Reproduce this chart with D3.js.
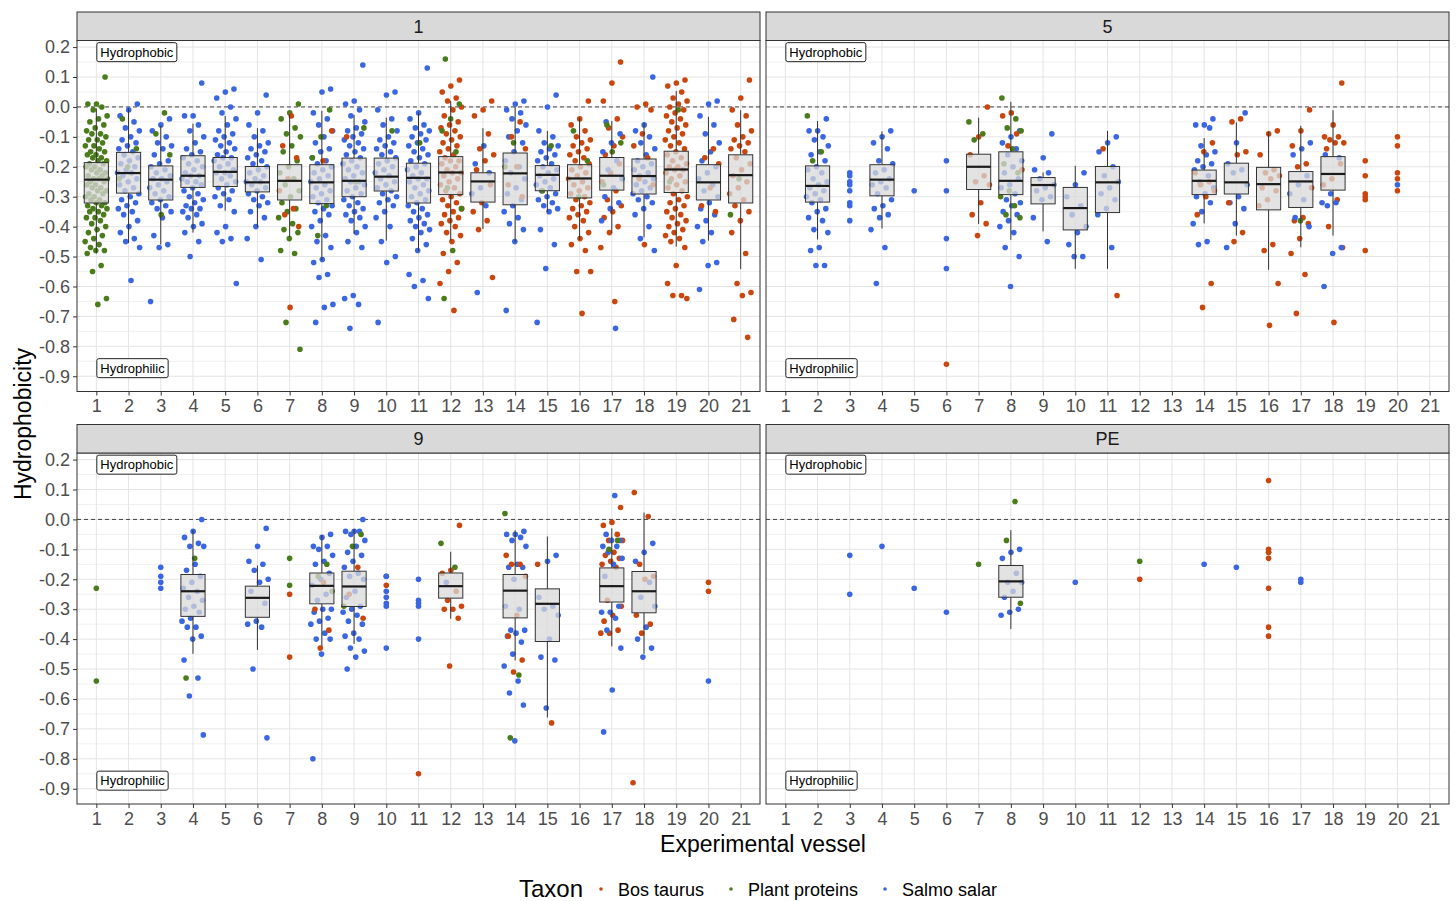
<!DOCTYPE html>
<html lang="en">
<head>
<meta charset="UTF-8" />
<title>Hydrophobicity by experimental vessel</title>
<style>
  body { margin: 0; background: #fff; }
  svg { display: block; font-family: "Liberation Sans", Arial, sans-serif; }
  .grid-major { stroke: #e4e4e4; stroke-width: 1; }
  .grid-minor { stroke: #f0f0f0; stroke-width: 1; }
  .axis text { font-size: 18px; fill: #4d4d4d; font-family: "Liberation Sans", Arial, sans-serif; }
  .axis line { stroke: #333; }
  .axis path { display: none; }
  .box rect { fill: #d9d9d9; fill-opacity: 0.75; stroke: #333; stroke-width: 1; }
  .box line { stroke: #333; stroke-width: 1; }
  .box .median { stroke: #1a1a1a; stroke-width: 2.2; }
</style>
</head>
<body>
<svg width="1456" height="901"></svg>
<script src="https://d3js.org/d3.v7.min.js"></script>
<script>
// facets, vessels, ticks
const facetNames = ["1", "5", "9", "PE"];
const vessels = d3.range(1, 22);
const yTicks = [0.2, 0.1, 0.0, -0.1, -0.2, -0.3, -0.4, -0.5, -0.6, -0.7, -0.8, -0.9];
const taxonCodes = ["B", "P", "S"];
const taxonNames = ["Bos taurus", "Plant proteins", "Salmo salar"];
const taxonColors = ["#c9470e", "#4b7c1b", "#3a66e2"];

// points: [vessel, taxon, values in hundredths]
const facet1Points = [
  [1, "P", "10 1 1 0 -1 -3 -4 -5 -6 -7 -8 -9 -9 -10 -11 -11 -12 -13 -13 -14 -15 -15 -16 -16 -17 -17 -18 -18 -19 -19 -20 -20 -21 -21 -22 -22 -23 -23 -24 -24 -24 -25 -25 -26 -26 -27 -27 -28 -28 -29 -29 -30 -30 -31 -31 -32 -32 -33 -33 -34 -34 -35 -35 -36 -37 -37 -38 -39 -40 -41 -42 -43 -44 -45 -46 -47 -48 -48 -49 -53 -55 -64 -66"],
  [2, "S", "1 -1 -3 -5 -7 -8 -10 -11 -12 -13 -14 -15 -16 -17 -18 -19 -20 -21 -22 -22 -23 -24 -25 -26 -27 -28 -29 -30 -31 -32 -33 -34 -35 -36 -38 -40 -42 -44 -45 -47 -58"],
  [2, "P", "-4 -14 -20 -24"],
  [3, "S", "-4 -6 -8 -10 -12 -13 -14 -16 -18 -19 -20 -21 -22 -23 -24 -24 -25 -26 -27 -28 -29 -30 -31 -32 -33 -34 -35 -37 -43 -46 -47 -65"],
  [3, "P", "-2 -9 -16 -36"],
  [4, "S", "8 -3 -3 -6 -8 -10 -12 -14 -15 -16 -17 -18 -19 -20 -21 -22 -23 -23 -24 -25 -25 -26 -27 -28 -29 -30 -31 -32 -33 -34 -34 -35 -36 -37 -39 -40 -42 -45 -50"],
  [5, "S", "6 5 3 0 -2 -4 -6 -8 -9 -10 -11 -12 -13 -14 -15 -16 -17 -17 -18 -19 -20 -21 -22 -22 -23 -24 -25 -26 -27 -28 -29 -30 -31 -33 -35 -40 -42 -44 -45 -59"],
  [6, "S", "4 -2 -6 -8 -10 -12 -13 -14 -15 -16 -17 -18 -19 -20 -21 -22 -23 -24 -25 -25 -26 -27 -28 -29 -30 -31 -32 -33 -35 -37 -40 -44 -51"],
  [7, "P", "1 -2 -4 -7 -9 -10 -13 -15 -18 -20 -22 -24 -26 -28 -30 -32 -34 -35 -37 -39 -41 -42 -44 -48 -49 -72 -81"],
  [7, "B", "-3 -13 -17 -24 -28 -34 -36 -40 -67"],
  [8, "S", "6 5 -2 -4 -6 -8 -10 -12 -14 -15 -17 -18 -19 -20 -21 -22 -23 -24 -25 -26 -27 -28 -29 -30 -31 -32 -33 -34 -35 -36 -38 -40 -43 -45 -47 -51 -52 -56 -57 -66 -67 -72"],
  [8, "P", "-1 -10 -17 -33 -43"],
  [8, "B", "-8 -18"],
  [9, "S", "14 2 1 -1 -3 -5 -7 -8 -9 -10 -11 -12 -13 -14 -15 -16 -17 -18 -19 -20 -21 -22 -23 -24 -25 -25 -26 -27 -28 -29 -30 -31 -32 -33 -34 -35 -36 -37 -38 -40 -42 -45 -47 -63 -64 -66 -74"],
  [9, "P", "-7 -25"],
  [9, "B", "-10"],
  [10, "S", "5 4 -1 -4 -6 -8 -10 -11 -12 -13 -14 -15 -16 -17 -18 -19 -20 -21 -22 -23 -24 -25 -26 -27 -28 -29 -30 -31 -32 -33 -35 -37 -40 -45 -50 -52 -72"],
  [10, "P", "-8"],
  [11, "S", "13 -2 -4 -6 -7 -8 -9 -10 -11 -12 -13 -14 -15 -16 -17 -18 -19 -20 -21 -22 -23 -24 -24 -25 -26 -27 -28 -29 -30 -31 -32 -33 -34 -35 -36 -37 -38 -39 -40 -41 -42 -44 -46 -48 -56 -58 -60 -64"],
  [11, "P", "-12"],
  [12, "B", "9 7 5 3 2 0 -1 -3 -5 -6 -7 -8 -9 -10 -11 -12 -13 -14 -15 -16 -17 -18 -18 -19 -20 -21 -22 -22 -23 -24 -25 -26 -27 -28 -29 -30 -31 -32 -33 -34 -35 -36 -37 -38 -39 -40 -42 -43 -45 -49 -52 -55 -59 -68"],
  [12, "P", "16 1 -4 -8 -15 -27 -34 -48 -64"],
  [13, "B", "2 -1 -3 -9 -14 -16 -18 -21 -26 -32 -35 -38 -41 -57"],
  [13, "S", "-13 -19 -22 -27 -29 -33 -62"],
  [14, "S", "2 1 -1 -2 -4 -6 -8 -10 -12 -15 -18 -20 -22 -24 -27 -29 -31 -33 -35 -37 -39 -41 -45 -68"],
  [14, "B", "-5 -10 -14 -20 -26 -30"],
  [14, "P", "-12 -20"],
  [15, "S", "4 0 -8 -10 -12 -13 -14 -15 -16 -17 -18 -19 -20 -21 -22 -23 -24 -25 -26 -27 -28 -29 -30 -31 -32 -33 -34 -35 -41 -46 -54 -72"],
  [15, "P", "-13 -28"],
  [16, "B", "2 -4 -6 -8 -10 -11 -12 -13 -14 -15 -16 -17 -18 -19 -20 -21 -22 -23 -24 -25 -26 -27 -28 -29 -30 -31 -32 -33 -34 -35 -36 -37 -38 -40 -42 -44 -46 -48 -55 -55 -69"],
  [16, "P", "-8 -18 -30"],
  [17, "B", "15 8 2 -4 -7 -10 -13 -16 -19 -22 -25 -28 -31 -33 -35 -37 -40 -42 -47 -65"],
  [17, "S", "-5 -9 -12 -15 -18 -21 -24 -27 -30 -32 -34 -38 -74"],
  [17, "P", "-6 -12 -15 -26"],
  [18, "S", "10 -6 -8 -10 -12 -14 -16 -18 -19 -20 -21 -22 -23 -24 -25 -26 -27 -28 -29 -30 -31 -32 -34 -36 -40 -44 -48"],
  [18, "B", "1 0 -1 -9 -13 -17 -24 -26 -46"],
  [19, "B", "9 8 7 5 3 2 1 0 -1 -2 -3 -4 -5 -6 -7 -8 -9 -10 -11 -12 -13 -14 -15 -16 -17 -18 -19 -20 -20 -21 -21 -22 -23 -24 -25 -26 -27 -28 -29 -30 -31 -32 -33 -34 -35 -36 -37 -38 -39 -40 -41 -42 -43 -44 -45 -47 -53 -59 -63 -63 -64"],
  [19, "P", "-1 -25"],
  [20, "S", "2 1 -3 -6 -9 -12 -15 -18 -20 -22 -24 -26 -28 -30 -32 -34 -36 -38 -40 -42 -45 -52 -53 -61"],
  [20, "B", "-14 -17 -19 -27 -33 -35"],
  [21, "B", "9 3 -1 -3 -6 -8 -10 -11 -12 -13 -14 -15 -17 -19 -21 -23 -25 -27 -29 -31 -33 -35 -38 -42 -49 -59 -62 -63 -71 -77"],
  [21, "P", "-24 -36"]
];

const facet5Points = [
  [2, "S", "-4 -8 -8 -10 -11 -13 -15 -16 -18 -20 -21 -22 -24 -25 -26 -27 -28 -29 -30 -31 -32 -34 -35 -37 -38 -41 -42 -47 -48 -53 -53"],
  [2, "P", "-3 -15 -18"],
  [3, "S", "-22 -23 -25 -26 -28 -32 -33 -38"],
  [4, "S", "-8 -10 -12 -14 -18 -19 -21 -22 -24 -25 -26 -27 -29 -31 -33 -34 -36 -37 -41 -47 -59"],
  [5, "S", "-28"],
  [6, "S", "-18 -28 -44 -54"],
  [6, "B", "-86"],
  [7, "B", "0 -10 -16 -23 -25 -26 -32 -36 -39 -43"],
  [7, "P", "-5 -9 -11"],
  [8, "S", "-8 -10 -12 -14 -16 -18 -20 -22 -24 -26 -27 -29 -31 -32 -33 -35 -36 -38 -40 -42 -47 -50 -60"],
  [8, "P", "3 -4 -7 -8 -14 -19 -22 -28 -30 -33 -36 -37"],
  [8, "B", "-2 -3 -9 -13 -21"],
  [9, "S", "-9 -17 -21 -22 -24 -26 -27 -28 -30 -31 -37 -45"],
  [10, "S", "-22 -26 -30 -33 -36 -40 -42 -46 -50 -50"],
  [11, "S", "-10 -12 -15 -20 -23 -25 -27 -29 -31 -34 -36 -47"],
  [11, "B", "-14 -63"],
  [14, "S", "-4 -6 -6 -7 -13 -15 -16 -18 -19 -20 -21 -23 -25 -27 -29 -30 -32 -35 -39 -45 -46"],
  [14, "B", "-12 -15 -22 -25 -26 -28 -30 -36 -59 -67"],
  [15, "S", "-2 -12 -19 -21 -22 -26 -30 -32 -34 -39 -47"],
  [15, "B", "-4 -5 -15 -16 -32 -42 -45"],
  [16, "B", "-8 -9 -16 -21 -22 -23 -24 -27 -28 -31 -33 -46 -48 -59 -73"],
  [17, "B", "-1 -8 -13 -19 -20 -27 -37 -38 -39 -44 -49 -56 -69"],
  [17, "S", "-12 -14 -16 -23 -26 -29 -31 -37 -40"],
  [17, "P", "-38"],
  [18, "B", "8 -6 -10 -10 -11 -12 -12 -14 -19 -24 -26 -31 -40 -47 -72"],
  [18, "S", "-16 -17 -29 -32 -32 -33 -47 -49 -60"],
  [19, "B", "-18 -23 -29 -30 -31 -48"],
  [20, "B", "-10 -13 -22 -24 -28"],
  [20, "S", "-26"]
];

const facet9Points = [
  [1, "P", "-23 -54"],
  [3, "S", "-16 -19 -21 -23"],
  [4, "S", "0 -4 -6 -8 -9 -9 -15 -17 -19 -21 -23 -24 -26 -27 -29 -30 -31 -33 -34 -36 -36 -39 -40 -47 -53 -59 -72"],
  [4, "P", "-13 -53"],
  [6, "S", "-3 -9 -14 -15 -17 -20 -21 -24 -28 -34 -35 -36 -50 -73"],
  [7, "P", "-13 -22"],
  [7, "B", "-25 -46"],
  [8, "S", "-5 -6 -9 -9 -10 -12 -14 -15 -18 -20 -22 -25 -27 -30 -30 -31 -33 -34 -35 -38 -40 -40 -45 -80"],
  [8, "P", "-15 -19 -24"],
  [8, "B", "-21 -30 -37 -43"],
  [9, "S", "0 -4 -4 -4 -5 -7 -9 -11 -12 -14 -16 -18 -19 -20 -24 -26 -29 -30 -31 -32 -34 -35 -38 -39 -40 -43 -44 -46 -50"],
  [9, "P", "-5 -9 -29"],
  [9, "B", "-16 -25 -33"],
  [10, "S", "-19 -19 -24 -26 -28 -29 -43"],
  [10, "B", "-22"],
  [11, "S", "-20 -27 -28 -29 -40"],
  [11, "B", "-85"],
  [12, "B", "-2 -17 -18 -24 -27 -29 -30 -30 -33 -49"],
  [12, "P", "-8 -16"],
  [12, "S", "-21"],
  [14, "S", "-4 -5 -5 -6 -7 -9 -15 -16 -16 -20 -29 -30 -37 -37 -38 -39 -41 -45 -49 -54 -58 -62 -74"],
  [14, "B", "-12 -15 -15 -19 -32 -39 -47 -51"],
  [14, "P", "2 -52 -73"],
  [15, "S", "-12 -14 -26 -29 -30 -32 -40 -46 -47 -63"],
  [15, "B", "-15 -68"],
  [17, "B", "4 -1 -2 -5 -7 -7 -11 -12 -13 -14 -15 -16 -27 -29 -32 -34 -37 -38 -38"],
  [17, "S", "8 -5 -7 -7 -9 -9 -11 -13 -15 -19 -29 -31 -31 -33 -37 -43 -57 -71"],
  [17, "P", "-7 -10"],
  [18, "S", "-8 -11 -14 -21 -26 -29 -36 -40 -43 -46"],
  [18, "B", "9 1 -15 -19 -20 -32 -35 -38 -88"],
  [20, "B", "-21 -24"],
  [20, "S", "-54"]
];

const facetPEPoints = [
  [3, "S", "-12 -25"],
  [4, "S", "-9"],
  [5, "S", "-23"],
  [6, "S", "-31"],
  [7, "P", "-15"],
  [8, "S", "-10 -11 -13 -18 -21 -21 -24 -26 -30 -31 -32"],
  [8, "P", "6 -7 -28"],
  [10, "S", "-21"],
  [12, "P", "-14"],
  [12, "B", "-20"],
  [14, "S", "-15"],
  [15, "S", "-16"],
  [16, "P", "-11"],
  [16, "B", "13 -10 -11 -13 -23 -36 -39"],
  [17, "S", "-20 -21"]
];

// boxes: [vessel, lower whisker, q1, median, q3, upper whisker]
const facet1Boxes = [
  [1, -0.49, -0.321, -0.243, -0.186, -0.005], [2, -0.455, -0.288, -0.221, -0.152, -0.005],
  [3, -0.46, -0.311, -0.243, -0.197, -0.063], [4, -0.42, -0.269, -0.23, -0.163, -0.056],
  [5, -0.347, -0.266, -0.217, -0.169, -0.03], [6, -0.402, -0.284, -0.252, -0.199, -0.071],
  [7, -0.435, -0.311, -0.247, -0.193, -0.024], [8, -0.513, -0.323, -0.252, -0.193, -0.013],
  [9, -0.424, -0.30, -0.247, -0.171, -0.027], [10, -0.447, -0.281, -0.233, -0.171, -0.036],
  [11, -0.482, -0.321, -0.237, -0.188, -0.019], [12, -0.447, -0.293, -0.219, -0.166, 0.02],
  [13, -0.408, -0.318, -0.249, -0.22, -0.071], [14, -0.452, -0.327, -0.222, -0.154, 0.0],
  [15, -0.352, -0.28, -0.227, -0.196, -0.08], [16, -0.444, -0.304, -0.239, -0.193, -0.036],
  [17, -0.422, -0.278, -0.23, -0.169, -0.047], [18, -0.436, -0.291, -0.231, -0.174, -0.053],
  [19, -0.467, -0.286, -0.209, -0.148, 0.053], [20, -0.447, -0.311, -0.252, -0.193, -0.033],
  [21, -0.542, -0.321, -0.228, -0.16, -0.011]
];
const facet5Boxes = [
  [2, -0.443, -0.318, -0.264, -0.197, -0.047], [4, -0.406, -0.297, -0.243, -0.193, -0.082],
  [7, -0.391, -0.276, -0.20, -0.158, -0.036], [8, -0.444, -0.293, -0.247, -0.15, 0.017],
  [9, -0.416, -0.324, -0.261, -0.236, -0.219], [10, -0.541, -0.411, -0.338, -0.269, -0.197],
  [11, -0.541, -0.353, -0.252, -0.199, -0.08], [14, -0.389, -0.293, -0.247, -0.211, -0.104],
  [15, -0.43, -0.291, -0.252, -0.188, -0.052], [16, -0.544, -0.344, -0.258, -0.202, -0.083],
  [17, -0.469, -0.336, -0.249, -0.216, -0.063], [18, -0.43, -0.278, -0.224, -0.166, -0.011]
];
const facet9Boxes = [
  [4, -0.449, -0.324, -0.24, -0.184, -0.036], [6, -0.436, -0.327, -0.262, -0.223, -0.154],
  [8, -0.424, -0.282, -0.222, -0.179, -0.052], [9, -0.416, -0.291, -0.224, -0.173, -0.032],
  [12, -0.332, -0.263, -0.223, -0.179, -0.108], [14, -0.471, -0.329, -0.238, -0.184, -0.036],
  [15, -0.662, -0.408, -0.282, -0.232, -0.057], [17, -0.424, -0.276, -0.223, -0.162, -0.03],
  [18, -0.449, -0.312, -0.24, -0.174, 0.023]
];
const facetPEBoxes = [
  [8, -0.366, -0.26, -0.207, -0.154, -0.036]
];

const facetPoints = [facet1Points, facet5Points, facet9Points, facetPEPoints];
const facetBoxes = [facet1Boxes, facet5Boxes, facet9Boxes, facetPEBoxes];

// layout
const svg = d3.select("svg");
const panelW = 683, plotH = 351, stripH = 28.5;
const panelPos = [[77, 40.5], [766, 40.5], [77, 453], [766, 453]];

const x = d3.scalePoint().domain(vessels).range([0, panelW]).padding(0.6);
const y = d3.scaleLinear().domain([-0.951, 0.222]).range([plotH, 0]);
const color = d3.scaleOrdinal().domain(taxonCodes).range(taxonColors);
const step = x.step();
const minorTicks = d3.pairs(yTicks).map(([a, b]) => (a + b) / 2);

function parsePoints(rows, boxes) {
  const boxed = new Set(boxes.map(b => b[0]));
  const count = {};
  const pts = [];
  rows.forEach(([v, code, vals]) => {
    vals.trim().split(/\s+/).forEach(s => {
      const i = count[v] = (count[v] || 0) + 1;
      // spread points sideways only where a box is drawn (jitter)
      const jit = boxed.has(v) ? (((i * 0.6180339887 + 0.27) % 1) - 0.5) * 0.7 : 0;
      pts.push({ vessel: v, taxon: code, value: +s / 100, jit: jit });
    });
  });
  return pts;
}

facetNames.forEach((name, k) => {
  const [px, py] = panelPos[k];
  const g = svg.append("g").attr("transform", `translate(${px},${py})`);

  // strip
  svg.append("rect")
    .attr("x", px).attr("y", py - stripH)
    .attr("width", panelW).attr("height", stripH)
    .attr("fill", "#d9d9d9").attr("stroke", "#333").attr("stroke-width", 1);
  svg.append("text")
    .attr("x", px + panelW / 2).attr("y", py - stripH / 2)
    .attr("dy", "0.36em").attr("text-anchor", "middle")
    .attr("font-size", 18).attr("fill", "#1a1a1a")
    .text(name);

  // grid
  g.selectAll(".grid-minor").data(minorTicks).join("line")
    .attr("class", "grid-minor")
    .attr("x1", 0).attr("x2", panelW)
    .attr("y1", d => y(d)).attr("y2", d => y(d));
  g.selectAll(".grid-y").data(yTicks).join("line")
    .attr("class", "grid-major grid-y")
    .attr("x1", 0).attr("x2", panelW)
    .attr("y1", d => y(d)).attr("y2", d => y(d));
  g.selectAll(".grid-x").data(vessels).join("line")
    .attr("class", "grid-major grid-x")
    .attr("x1", d => x(d)).attr("x2", d => x(d))
    .attr("y1", 0).attr("y2", plotH);

  // zero line
  g.append("line")
    .attr("x1", 0).attr("x2", panelW)
    .attr("y1", y(0)).attr("y2", y(0))
    .attr("stroke", "#444").attr("stroke-width", 1)
    .attr("stroke-dasharray", "4,3");

  // points
  const pts = parsePoints(facetPoints[k], facetBoxes[k]);
  g.selectAll("circle").data(pts).join("circle")
    .attr("cx", d => x(d.vessel) + d.jit * step)
    .attr("cy", d => y(d.value))
    .attr("r", 2.8)
    .attr("fill", d => color(d.taxon));

  // boxes
  const bw = step * 0.75;
  const bx = g.selectAll(".box").data(facetBoxes[k]).join("g").attr("class", "box");
  bx.append("line")
    .attr("x1", d => x(d[0])).attr("x2", d => x(d[0]))
    .attr("y1", d => y(d[5])).attr("y2", d => y(d[4]));
  bx.append("line")
    .attr("x1", d => x(d[0])).attr("x2", d => x(d[0]))
    .attr("y1", d => y(d[2])).attr("y2", d => y(d[1]));
  bx.append("rect")
    .attr("x", d => x(d[0]) - bw / 2).attr("width", bw)
    .attr("y", d => y(d[4])).attr("height", d => y(d[2]) - y(d[4]));
  bx.append("line").attr("class", "median")
    .attr("x1", d => x(d[0]) - bw / 2).attr("x2", d => x(d[0]) + bw / 2)
    .attr("y1", d => y(d[3])).attr("y2", d => y(d[3]));

  // Hydrophobic / Hydrophilic labels
  [["Hydrophobic", 0.183], ["Hydrophilic", -0.873]].forEach(([lab, v]) => {
    const lg = g.append("g");
    const t = lg.append("text")
      .attr("x", x(1) + 4).attr("y", y(v))
      .attr("dy", "0.35em").attr("font-size", 13).attr("fill", "#000")
      .text(lab);
    const w = t.node().getComputedTextLength();
    lg.insert("rect", "text")
      .attr("x", x(1) + 0.5).attr("y", y(v) - 9.5)
      .attr("width", w + 7).attr("height", 19)
      .attr("rx", 2).attr("fill", "#fff")
      .attr("stroke", "#222").attr("stroke-width", 1);
  });

  // panel border
  g.append("rect")
    .attr("width", panelW).attr("height", plotH)
    .attr("fill", "none").attr("stroke", "#333").attr("stroke-width", 1);

  // axes
  g.append("g").attr("class", "axis")
    .attr("transform", `translate(0,${plotH})`)
    .call(d3.axisBottom(x).tickSize(4).tickPadding(4));
  if (k % 2 === 0) {
    g.append("g").attr("class", "axis")
      .call(d3.axisLeft(y).tickValues(yTicks).tickSize(4).tickPadding(3)
        .tickFormat(d => d.toFixed(1)));
  }
});

// axis titles
svg.append("text")
  .attr("x", 763).attr("y", 852)
  .attr("text-anchor", "middle").attr("font-size", 23).attr("fill", "#000")
  .text("Experimental vessel");
svg.append("text")
  .attr("transform", "translate(31,424) rotate(-90)")
  .attr("text-anchor", "middle").attr("font-size", 23).attr("fill", "#000")
  .text("Hydrophobicity");

// legend
const legend = svg.append("g").attr("transform", "translate(519,897)");
legend.append("text").attr("x", 0).attr("y", 0)
  .attr("font-size", 24).attr("fill", "#000").text("Taxon");
const legendX = [82, 212, 366];
taxonCodes.forEach((c, i) => {
  legend.append("circle")
    .attr("cx", legendX[i]).attr("cy", -8).attr("r", 1.8)
    .attr("fill", color(c));
  legend.append("text")
    .attr("x", legendX[i] + 17).attr("y", -1)
    .attr("font-size", 18).attr("fill", "#000")
    .text(taxonNames[i]);
});
</script>
</body>
</html>
